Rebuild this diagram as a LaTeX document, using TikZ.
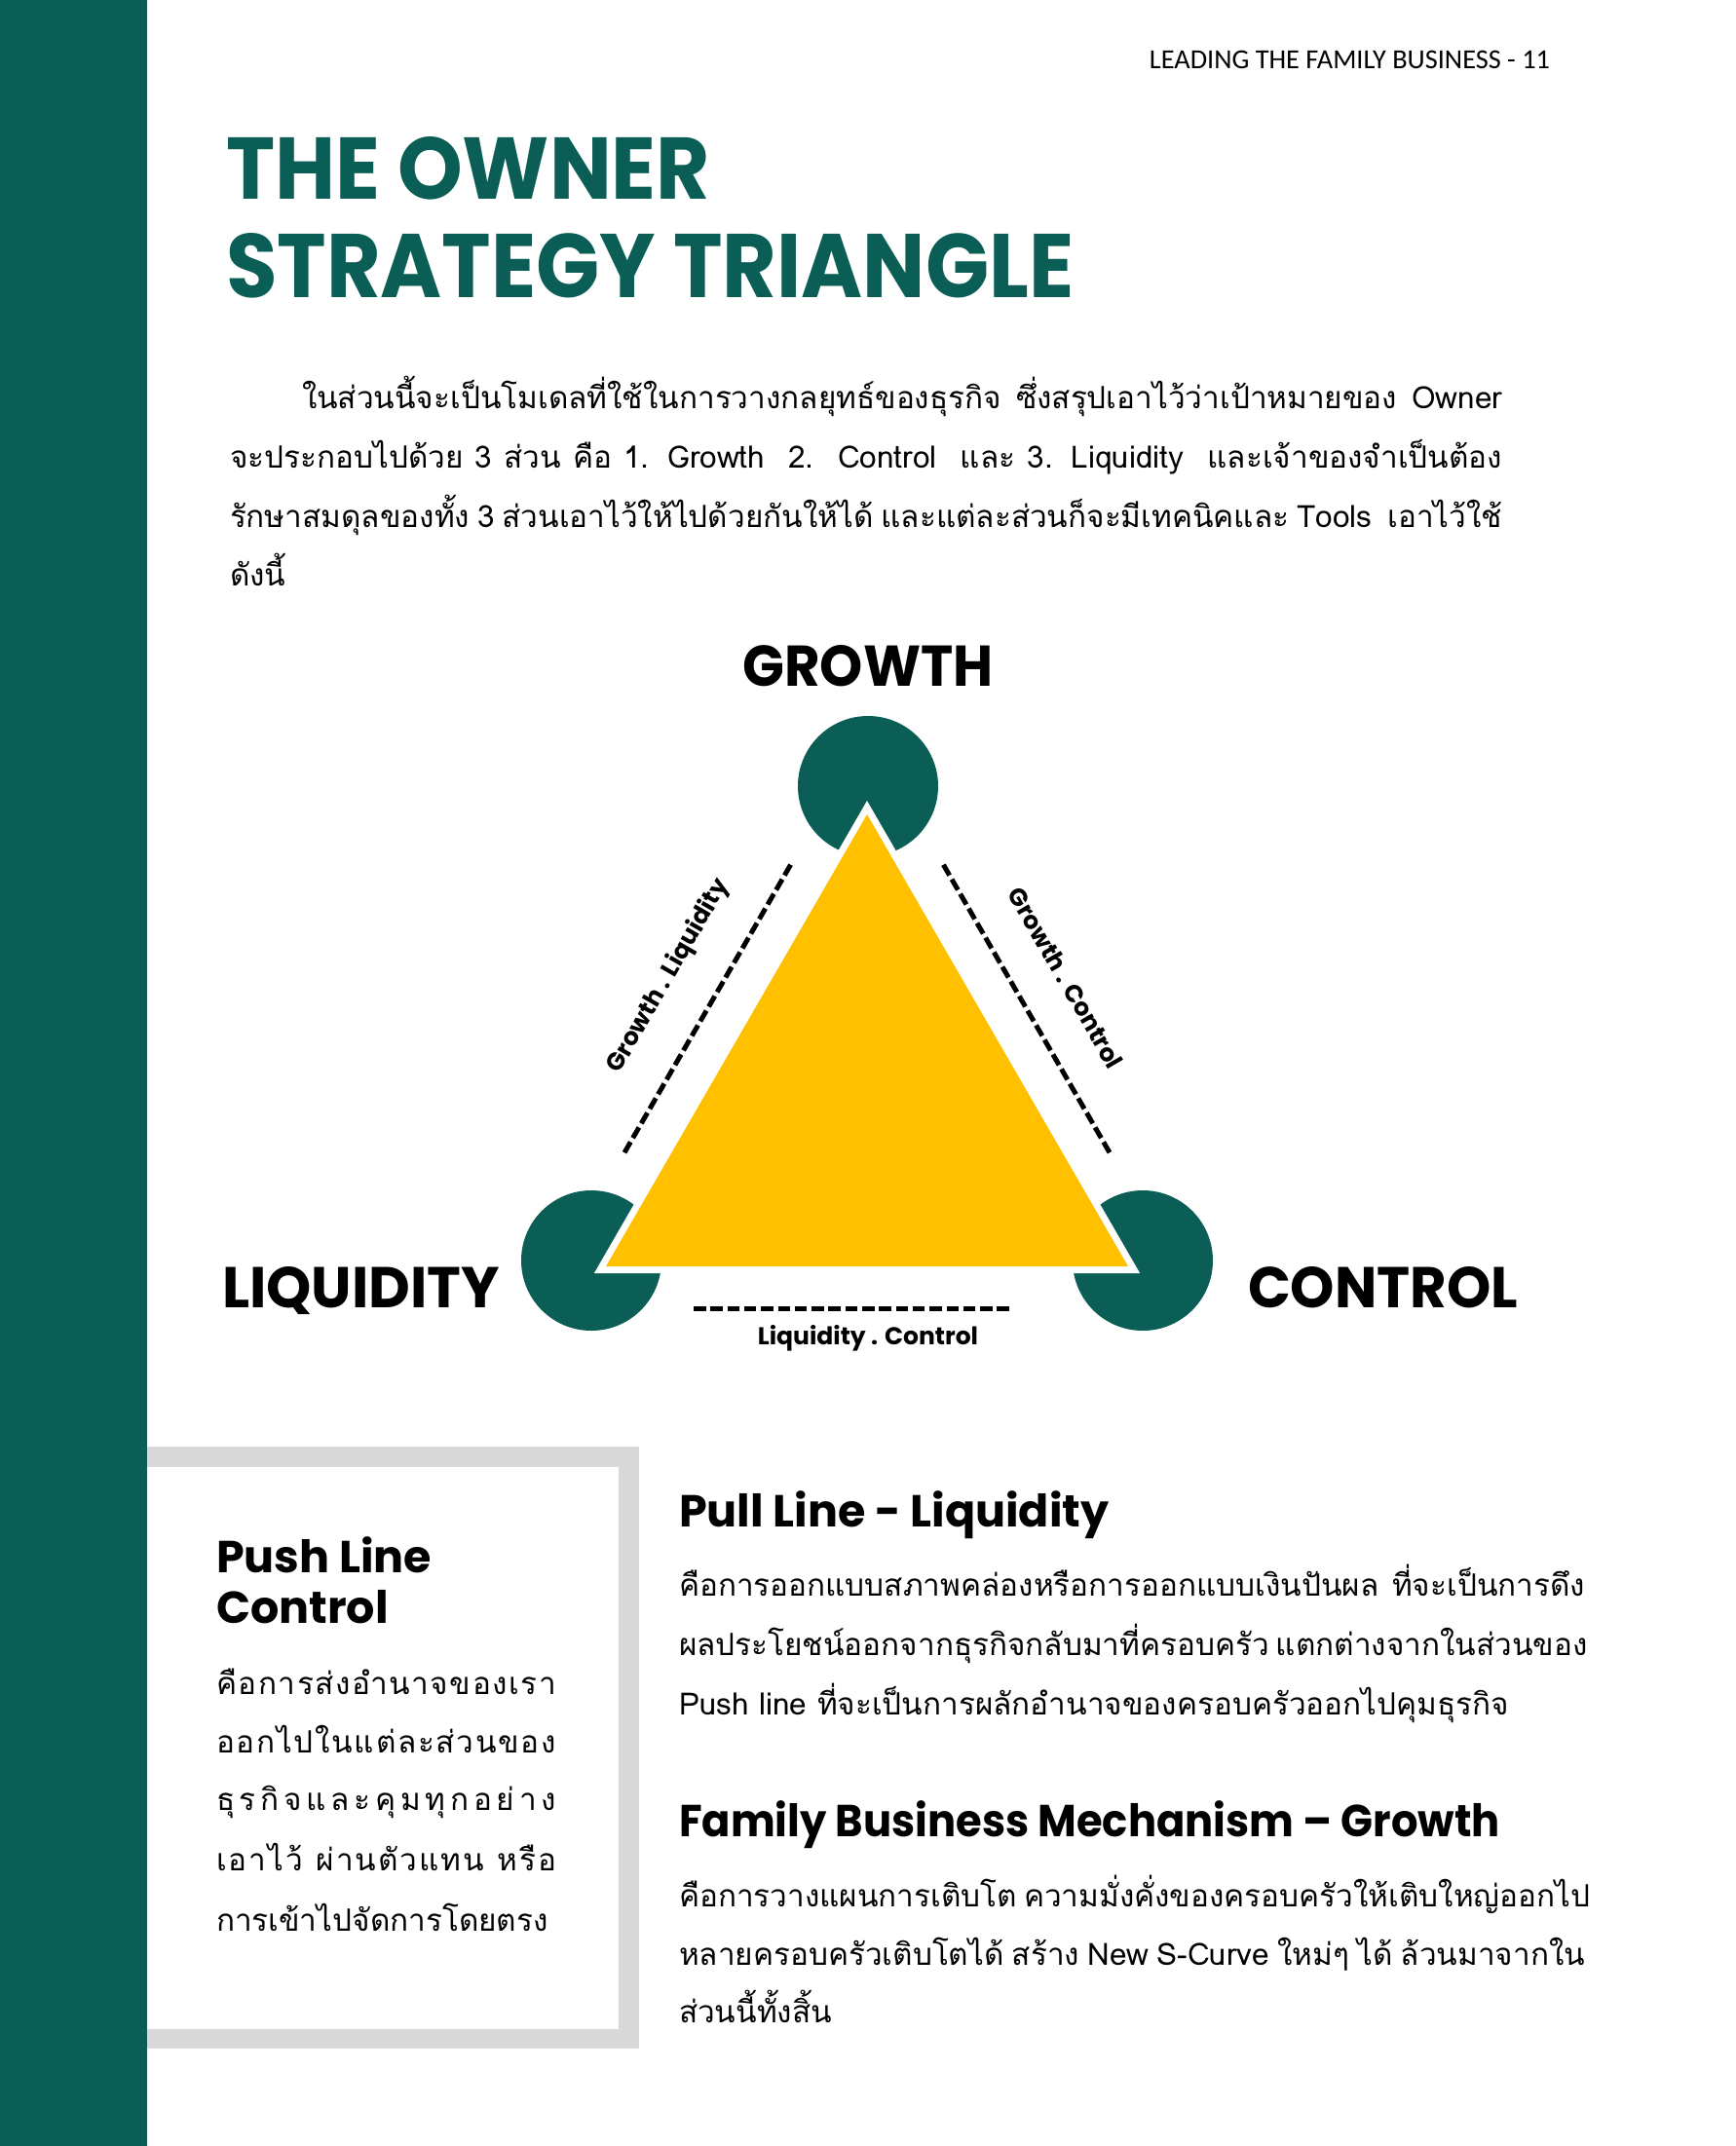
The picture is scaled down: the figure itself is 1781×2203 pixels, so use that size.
\documentclass[tikz,border=0pt]{standalone}
\usepackage{graphicx}
\usepackage{fontspec}
\newfontfamily\pop{Poppins}
\newfontfamily\thai[Script=Thai]{Loma}
\newfontfamily\calib{Carlito}
\definecolor{dgreen}{RGB}{10,94,85}
\definecolor{tyellow}{RGB}{255,192,0}
\definecolor{lgray}{RGB}{217,217,217}
\newcommand\myjust[2]{\makebox[#1][s]{#2}}
\newcommand\wgap{\hfill\hspace{10pt}\hfill}
\begin{document}
\begin{tikzpicture}[x=1pt,y=-1pt,
  every node/.style={inner sep=0pt,outer sep=0pt},
  bodytxt/.style={anchor=base west,font=\thai\fontsize{31.5}{38}\selectfont},
  headtxt/.style={anchor=base west,font=\pop\bfseries\fontsize{46}{52}\selectfont},
  cornerlbl/.style={font=\pop\bfseries},
  edgelbl/.style={font=\pop\bfseries\fontsize{25}{30}\selectfont},
  dashline/.style={line width=5pt,dash pattern=on 12.5pt off 4.8pt}]
\useasboundingbox (0,0) rectangle (1781,2203);
\fill[white] (0,0) rectangle (1781,2203);
% green bar
\fill[dgreen] (0,0) rectangle (151,2203);
% header
\node[anchor=base east,font=\calib\fontsize{28.3}{33}\selectfont] (hdr) at (1591,70) {LEADING THE FAMILY BUSINESS - 11};
% title
\node[anchor=base west,text=dgreen] (t1) at (232,204) {\resizebox{497pt}{64pt}{\pop\bfseries THE OWNER}};
\node[anchor=base west,text=dgreen] (t2) at (232,305) {\resizebox{870pt}{66pt}{\pop\bfseries STRATEGY TRIANGLE}};
% intro paragraph
\node[bodytxt] (p1) at (310,419) {\myjust{1232pt}{ในส่วนนี้จะเป็นโมเดลที่ใช้ในการวางกลยุทธ์ของธุรกิจ ซึ่งสรุปเอาไว้ว่าเป้าหมายของ Owner}};
\node[bodytxt] (p2) at (236,480) {\myjust{1306pt}{จะประกอบไปด้วย 3 ส่วน คือ 1. Growth\ \ 2.\ \ Control\ \ และ 3. Liquidity\ \ และเจ้าของจำเป็นต้อง}};
\node[bodytxt] (p3) at (236,541) {\myjust{1306pt}{รักษาสมดุลของทั้ง 3 ส่วนเอาไว้ให้ไปด้วยกันให้ได้ และแต่ละส่วนก็จะมีเทคนิคและ Tools\ \ เอาไว้ใช้}};
\node[bodytxt] (p4) at (236,601) {ดังนี้};
% triangle diagram
\coordinate (A) at (890,836);
\coordinate (B) at (622,1300);
\coordinate (C) at (1158,1300);
\fill[dgreen] (891,807) circle (72);
\fill[dgreen] (607,1294) circle (72);
\fill[dgreen] (1173,1294) circle (72);
\draw[white,line width=14pt,line join=miter] (A) -- (B) -- (C) -- cycle;
\fill[tyellow] (A) -- (B) -- (C) -- cycle;
\node[cornerlbl,anchor=base] (gro) at (891,704) {\resizebox{257pt}{42pt}{\pop\bfseries GROWTH}};
\node[cornerlbl,anchor=base west] (liq) at (228,1342) {\resizebox{285pt}{42pt}{\pop\bfseries LIQUIDITY}};
\node[cornerlbl,anchor=base west] (con) at (1281,1342) {\resizebox{277pt}{42pt}{\pop\bfseries CONTROL}};
% dashed lines
\coordinate (l1) at (811.6,887.7);
\coordinate (l2) at (639.6,1185.6);
\coordinate (r1) at (968.4,887.7);
\coordinate (r2) at (1140.4,1185.6);
\coordinate (b1) at (712,1343);
\coordinate (b2) at (1038,1343);
\draw[dashline] (l1) -- (l2);
\draw[dashline] (r1) -- (r2);
\draw[dashline] (b1) -- (b2);
\node[edgelbl,rotate=60] (gl) at (686,1002) {Growth . Liquidity};
\node[edgelbl,rotate=-60] (gc) at (1094,1004) {Growth . Control};
\node[edgelbl,anchor=base] (lc) at (891,1380) {Liquidity . Control};
% gray box
\fill[lgray] (151,1485) rectangle (656,2103);
\fill[white] (151,1506) rectangle (635,2083);
\node[headtxt] (push1) at (222,1614) {Push Line};
\node[headtxt] (push2) at (222,1666) {Control};
\node[bodytxt] (b1t) at (222,1739) {\myjust{349pt}{คื\hfill อ\hfill ก\hfill า\hfill ร\hfill ส่\hfill ง\hfill อำ\hfill น\hfill า\hfill จ\hfill ข\hfill อ\hfill ง\hfill เ\hfill ร\hfill า}};
\node[bodytxt] (b2t) at (222,1799) {\myjust{349pt}{อ\hfill อ\hfill ก\hfill ไ\hfill ป\hfill ใ\hfill น\hfill แ\hfill ต่\hfill ล\hfill ะ\hfill ส่\hfill ว\hfill น\hfill ข\hfill อ\hfill ง}};
\node[bodytxt] (b3t) at (222,1858) {\myjust{349pt}{ธุ\hfill ร\hfill กิ\hfill จ\hfill แ\hfill ล\hfill ะ\hfill คุ\hfill ม\hfill ทุ\hfill ก\hfill อ\hfill ย่\hfill า\hfill ง}};
\node[bodytxt] (b4t) at (222,1920) {\myjust{349pt}{เ\hfill อ\hfill า\hfill ไ\hfill ว้\wgap ผ่\hfill า\hfill น\hfill ตั\hfill ว\hfill แ\hfill ท\hfill น\wgap ห\hfill รื\hfill อ}};
\node[bodytxt] (b5t) at (222,1982) {การเข้าไปจัดการโดยตรง};
% right column
\node[headtxt] (pull) at (697,1567) {Pull Line - Liquidity};
\node[bodytxt] (r1t) at (697,1638) {\myjust{930pt}{คือการออกแบบสภาพคล่องหรือการออกแบบเงินปันผล ที่จะเป็นการดึง}};
\node[bodytxt] (r2t) at (697,1699) {\myjust{930pt}{ผลประโยชน์ออกจากธุรกิจกลับมาที่ครอบครัว แตกต่างจากในส่วนของ}};
\node[bodytxt] (r3t) at (697,1760) {Push line ที่จะเป็นการผลักอำนาจของครอบครัวออกไปคุมธุรกิจ};
\node[headtxt] (fam) at (697,1885) {\scalebox{0.94}[1]{Family Business Mechanism – Growth}};
\node[bodytxt] (r4t) at (697,1957) {\myjust{930pt}{คือการวางแผนการเติบโต ความมั่งคั่งของครอบครัวให้เติบใหญ่ออกไป}};
\node[bodytxt] (r5t) at (697,2017) {\myjust{930pt}{หลายครอบครัวเติบโตได้ สร้าง New S-Curve ใหม่ๆ ได้ ล้วนมาจากใน}};
\node[bodytxt] (r6t) at (697,2076) {ส่วนนี้ทั้งสิ้น};
\end{tikzpicture}
\end{document}
